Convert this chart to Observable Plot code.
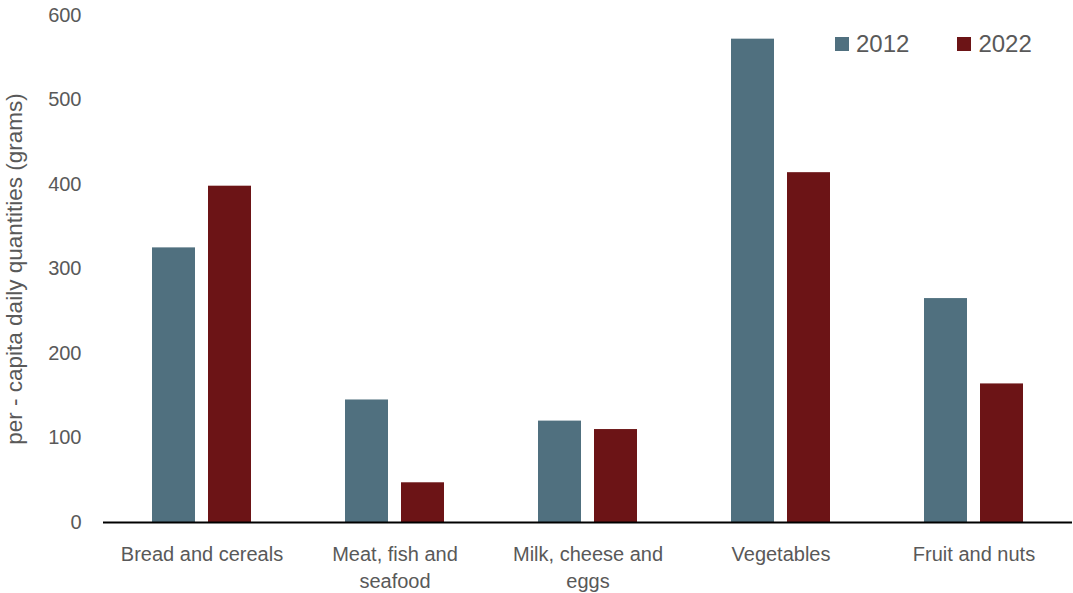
<!DOCTYPE html>
<html>
<head>
<meta charset="utf-8">
<script src="https://cdn.jsdelivr.net/npm/d3@7"></script>
<script src="https://cdn.jsdelivr.net/npm/@observablehq/plot@0.6"></script>
<style>
  html, body { margin: 0; padding: 0; background: #fff; }
  #wrap { position: relative; width: 1073px; height: 593px; font-family: "Liberation Sans", Arial, sans-serif; }
  .legend { position: absolute; top: 30px; left: 835px; display: flex; align-items: center; font-size: 24px; color: #595959; }
  .legend .item { display: flex; align-items: center; }
  .legend .sw { width: 14px; height: 14px; display: inline-block; margin-right: 7px; }
</style>
</head>
<body>
<div id="wrap"></div>
<script>
const categories = ["Bread and cereals", "Meat, fish and seafood", "Milk, cheese and eggs", "Vegetables", "Fruit and nuts"];
const tickLabels = ["Bread and cereals", "Meat, fish and\nseafood", "Milk, cheese and\neggs", "Vegetables", "Fruit and nuts"];
const years = ["2012", "2022"];
const values2012 = [325, 145, 120, 572, 265];
const values2022 = [398, 47, 110, 414, 164];
const yTicks = [0, 100, 200, 300, 400, 500, 600];
const colors = ["#50707f", "#6c1416"];

const rows2012 = categories.map((c, i) => ({category: c, year: years[0], value: values2012[i]}));
const rows2022 = categories.map((c, i) => ({category: c, year: years[1], value: values2022[i]}));
const labelOf = new Map(categories.map((c, i) => [c, tickLabels[i]]));

const chart = Plot.plot({
  width: 1073,
  height: 593,
  marginLeft: 103,
  marginRight: 1,
  marginTop: 15,
  marginBottom: 71,
  style: {fontFamily: '"Liberation Sans", Arial, sans-serif', fontSize: "20px", color: "#595959", background: "#fff", overflow: "visible"},
  x: {domain: categories, paddingInner: 0.489, paddingOuter: 0.2445},
  y: {domain: [0, 600]},
  color: {domain: years, range: colors},
  marks: [
    Plot.barY(rows2012, {x: "category", y: "value", fill: "year", insetRight: 56}),
    Plot.barY(rows2022, {x: "category", y: "value", fill: "year", insetLeft: 56}),
    Plot.ruleY([0], {stroke: "#000", strokeWidth: 2}),
    Plot.axisY({ticks: yTicks, tickSize: 0, tickPadding: 22, fill: "#595959", fontSize: 20, label: null}),
    Plot.axisY({ticks: [], tickSize: 0, fill: "#595959", fontSize: 22.5,
      label: "per - capita daily quantities (grams)", labelAnchor: "center", labelArrow: "none", labelOffset: 97}),
    Plot.axisX({tickSize: 0, tickPadding: 19, fill: "#595959", fontSize: 20, lineHeight: 1.35,
      tickFormat: d => labelOf.get(d), label: null})
  ]
});
document.getElementById("wrap").appendChild(chart);

const legend = document.createElement("div");
legend.className = "legend";
years.forEach((y, i) => {
  const item = document.createElement("div");
  item.className = "item";
  item.style.marginRight = i === 0 ? "48px" : "0";
  const sw = document.createElement("span");
  sw.className = "sw";
  sw.style.background = colors[i];
  const t = document.createElement("span");
  t.textContent = y;
  item.appendChild(sw);
  item.appendChild(t);
  legend.appendChild(item);
});
document.getElementById("wrap").appendChild(legend);
</script>
</body>
</html>
